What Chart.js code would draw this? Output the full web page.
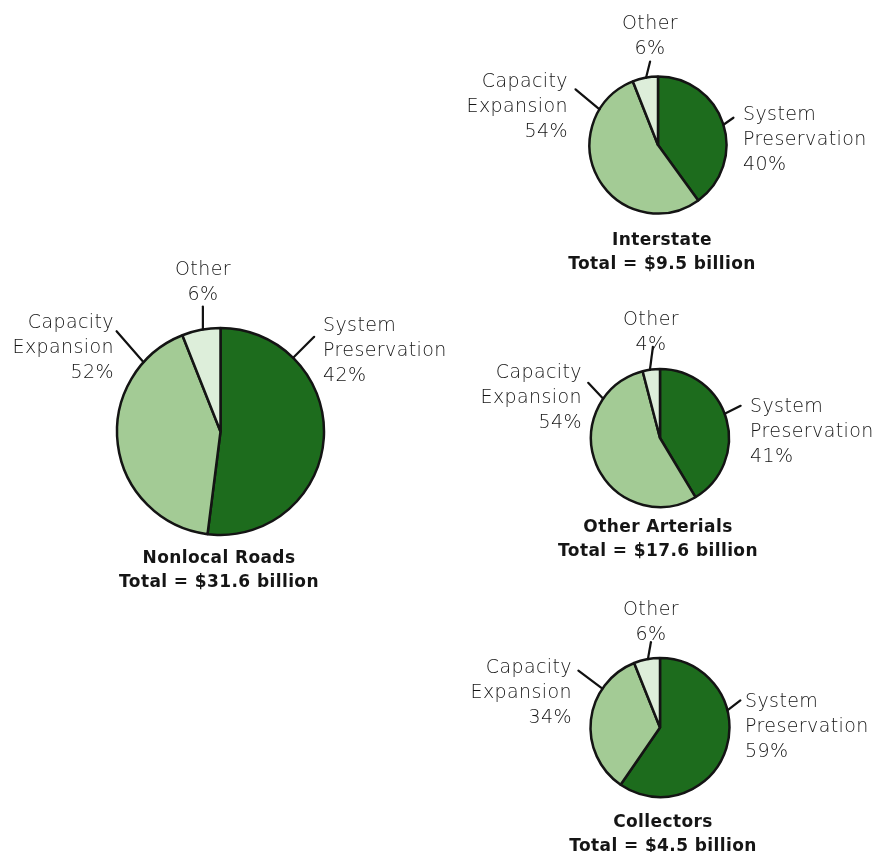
<!DOCTYPE html>
<html><head><meta charset="utf-8">
<script src="https://cdn.jsdelivr.net/npm/chart.js@4"></script>
<style>
html,body{margin:0;padding:0;background:#fff;}
#wrap{position:relative;width:884px;height:852px;overflow:hidden;font-family:"DejaVu Sans",sans-serif;}
#wrap canvas{position:absolute;left:0;top:0;}
.t{position:absolute;white-space:nowrap;color:#151515;font-size:19px;font-weight:200;line-height:25px;letter-spacing:0.4px;}
.ttl{position:absolute;white-space:nowrap;color:#151515;font-size:17px;font-weight:bold;line-height:24px;text-align:center;width:400px;letter-spacing:0.4px;}
</style></head><body><div id="wrap"></div>
<script>
// ---- data ----
const categories = ['System Preservation', 'Capacity Expansion', 'Other'];
const chartTitles = ['Nonlocal Roads', 'Interstate', 'Other Arterials', 'Collectors'];
const totals = ['$31.6 billion', '$9.5 billion', '$17.6 billion', '$4.5 billion'];
// slice sizes as drawn in the picture
const nonlocalValues = [52, 42, 6];
const interstateValues = [40, 54, 6];
const arterialValues = [41, 54, 4];
const collectorValues = [59, 34, 6];
// percentages as printed next to the slices
const nonlocalPercents = [42, 52, 6];
const interstatePercents = [40, 54, 6];
const arterialPercents = [41, 54, 4];
const collectorPercents = [59, 34, 6];

// ---- styling / layout ----
const sliceColors = ['#1d6c1d', '#a3cb95', '#ddeeda'];
const borderW = 2.5;
const labelLines = [['System', 'Preservation'], ['Capacity', 'Expansion'], ['Other']];
const charts = [
  {values: nonlocalValues, pcts: nonlocalPercents, cx: 220.5, cy: 431.5, r: 103.5, tx: 219, tb: 563,
   labels: [{x: 323, b: 331, al: 'left', ang: 44.6, dx: 21, dy: -21},
            {x: 114, b: 328, al: 'right', ang: -48, dx: -27, dy: -31},
            {x: 203, b: 275, al: 'center', ang: -9.8, dx: 0, dy: -23}]},
  {values: interstateValues, pcts: interstatePercents, cx: 658, cy: 145, r: 68.5, tx: 662, tb: 245,
   labels: [{x: 743, b: 120, al: 'left', ang: 72.8, dx: 10, dy: -7},
            {x: 568, b: 87, al: 'right', ang: -58.6, dx: -24, dy: -20},
            {x: 650, b: 29, al: 'center', ang: -10, dx: 4, dy: -16}]},
  {values: arterialValues, pcts: arterialPercents, cx: 660, cy: 438, r: 69, tx: 658, tb: 532,
   labels: [{x: 750, b: 412, al: 'left', ang: 69.5, dx: 16, dy: -8},
            {x: 582, b: 378, al: 'right', ang: -55.4, dx: -15, dy: -16},
            {x: 651, b: 325, al: 'center', ang: -8.4, dx: 3, dy: -23}]},
  {values: collectorValues, pcts: collectorPercents, cx: 660, cy: 727.5, r: 69.5, tx: 663, tb: 827,
   labels: [{x: 745, b: 707, al: 'left', ang: 75.8, dx: 13, dy: -10},
            {x: 572, b: 673, al: 'right', ang: -56, dx: -24, dy: -18},
            {x: 651, b: 615, al: 'center', ang: -10, dx: 3, dy: -17}]}
];

const W = 884, H = 852;
const wrap = document.getElementById('wrap');

const leaderPlugin = {
  id: 'leaders',
  afterDatasetsDraw(chart, args, opts) {
    const meta = chart.getDatasetMeta(0);
    const ctx = chart.ctx;
    ctx.save();
    ctx.strokeStyle = '#111';
    ctx.lineWidth = 2.2;
    ctx.lineCap = 'round';
    opts.labels.forEach((lb, i) => {
      const arc = meta.data[i];
      const R = arc.outerRadius;
      const a = lb.ang * Math.PI / 180;
      const sx = arc.x + R * Math.sin(a);
      const sy = arc.y - R * Math.cos(a);
      ctx.beginPath();
      ctx.moveTo(sx, sy);
      ctx.lineTo(sx + lb.dx, sy + lb.dy);
      ctx.stroke();
    });
    ctx.restore();
  }
};

function addText(cls, lines, x, base, align, offset) {
  const d = document.createElement('div');
  d.className = cls;
  d.innerHTML = lines.map(s => s.replace(/&/g, '&amp;')).join('<br>');
  d.style.top = (base - offset) + 'px';
  if (align === 'left') { d.style.left = x + 'px'; d.style.textAlign = 'left'; }
  else if (align === 'right') { d.style.right = (W - x) + 'px'; d.style.textAlign = 'right'; }
  else { d.style.left = (x - 200) + 'px'; d.style.width = '400px'; d.style.textAlign = 'center'; }
  wrap.appendChild(d);
}

charts.forEach((c, k) => {
  const cv = document.createElement('canvas');
  cv.width = W; cv.height = H;
  wrap.appendChild(cv);
  const R = c.r + borderW / 2;
  new Chart(cv, {
    type: 'pie',
    data: {
      labels: categories,
      datasets: [{data: c.values, backgroundColor: sliceColors, borderColor: '#141414', borderWidth: borderW}]
    },
    options: {
      responsive: false, animation: false, events: [],
      layout: {padding: {left: c.cx - R, top: c.cy - R, right: W - c.cx - R, bottom: H - c.cy - R}},
      plugins: {legend: {display: false}, tooltip: {enabled: false}, leaders: {labels: c.labels}}
    },
    plugins: [leaderPlugin]
  });
  c.labels.forEach((lb, i) => {
    addText('t', labelLines[i].concat([c.pcts[i] + '%']), lb.x, lb.b, lb.al, 19);
  });
  addText('ttl', [chartTitles[k], 'Total = ' + totals[k]], c.tx, c.tb, 'center', 18);
});
</script></body></html>
